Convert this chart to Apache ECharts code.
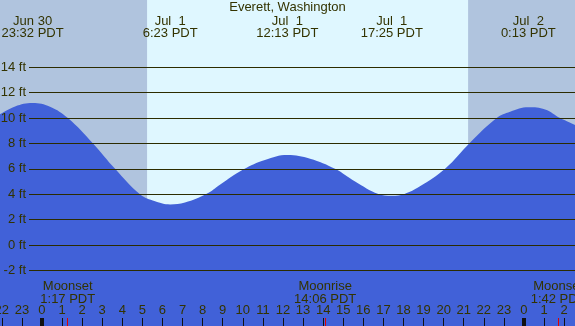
<!DOCTYPE html>
<html>
<head>
<meta charset="utf-8">
<script src="https://cdn.jsdelivr.net/npm/echarts@6/dist/echarts.min.js"></script>
<style>
  html, body { margin: 0; padding: 0; }
  #tide { width: 575px; height: 326px; }
</style>
</head>
<body>
<div id="tide"></div>
<script>
// hours are counted from midnight Jul 1 (PDT)
const stationName = "Everett, Washington";
const startHour = -2.09;
const endHour = 26.54;

const tideHours = [-2.09, -1.34, -0.47, 0.40, 1.29, 2.54, 3.64, 4.88, 5.63, 6.38, 7.12, 8.20, 8.86, 10.02, 11.10, 12.22, 13.35, 14.59, 15.59, 16.75, 17.42, 18.05, 18.80, 20.07, 21.31, 22.64, 23.31, 24.22, 25.05, 25.80, 26.54];
const tideFeet = [10.3, 10.92, 11.19, 10.9, 10.0, 8.0, 6.0, 4.0, 3.45, 3.2, 3.34, 4.03, 4.75, 5.95, 6.7, 7.09, 6.8, 6.0, 5.0, 4.02, 3.88, 4.02, 4.6, 6.0, 8.05, 10.0, 10.5, 10.85, 10.68, 10.0, 9.46];

const eventHours = [-0.467, 6.383, 12.217, 17.417, 24.217];
const eventDates = ["Jun 30", "Jul  1", "Jul  1", "Jul  1", "Jul  2"];
const eventTimes = ["23:32 PDT", "6:23 PDT", "12:13 PDT", "17:25 PDT", "0:13 PDT"];

const moonHours = [1.283, 14.1, 25.7];
const moonNames = ["Moonset", "Moonrise", "Moonset"];
const moonTimes = ["1:17 PDT", "14:06 PDT", "1:42 PDT"];

const sunHours = [5.233, 21.217]; // sunrise, sunset
const midnightHours = [0, 24];
const hourTicks = [-2, -1, 0, 1, 2, 3, 4, 5, 6, 7, 8, 9, 10, 11, 12, 13, 14, 15, 16, 17, 18, 19, 20, 21, 22, 23, 24, 25, 26];
const feetMin = -2, feetMax = 14, feetStep = 2;

const ink = "#333300";
const font = "'Liberation Sans', Arial, sans-serif";
const fs = 13;

function findIdx(list, v) {
  return list.findIndex(h => Math.abs(h - v) < 0.01);
}

// shared bits for the x axes drawn in the full-size grid
function hourAxis(extra) {
  return Object.assign({
    type: "value", gridIndex: 0, min: startHour, max: endHour, z: 10,
    position: "bottom",
    axisLine: { show: false, onZero: false },
    splitLine: { show: false }
  }, extra);
}

const chart = echarts.init(document.getElementById("tide"));
chart.setOption({
  animation: false,
  backgroundColor: "#dff7ff",
  textStyle: { fontFamily: font, color: ink },
  title: {
    text: stationName,
    left: "center",
    top: 0,
    padding: 1,
    textStyle: { fontSize: fs, fontWeight: "normal", color: ink, fontFamily: font }
  },
  grid: [
    { left: 0, right: 0, top: 0, bottom: 0, outerBoundsMode: "none" },
    { left: 29, right: 0, top: 67.3, bottom: 55.6, outerBoundsMode: "none" }
  ],
  xAxis: [
    hourAxis({
      axisTick: { inside: true, length: 8, customValues: hourTicks, lineStyle: { color: "#111", width: 1 } },
      axisLabel: {
        inside: true, margin: 9, customValues: hourTicks, color: ink, fontSize: fs, fontFamily: font,
        formatter: v => String(((Math.round(v) % 24) + 24) % 24)
      }
    }),
    hourAxis({
      z: 11,
      axisTick: { inside: true, length: 8, customValues: midnightHours, lineStyle: { color: "#111", width: 4 } },
      axisLabel: { show: false }
    }),
    hourAxis({
      z: 11,
      axisTick: { inside: true, length: 8, customValues: moonHours, lineStyle: { color: "#e00000", width: 1 } },
      axisLabel: {
        inside: true, margin: 20, customValues: moonHours, color: ink, fontSize: fs, fontFamily: font, lineHeight: 13,
        formatter: v => { const i = findIdx(moonHours, v); return moonNames[i] + "\n" + moonTimes[i]; }
      }
    }),
    hourAxis({
      z: 11,
      position: "top",
      axisTick: { show: false },
      axisLabel: {
        inside: true, margin: 15, customValues: eventHours, color: ink, fontSize: fs, fontFamily: font, lineHeight: 12,
        formatter: v => { const i = findIdx(eventHours, v); return eventDates[i] + "\n" + eventTimes[i]; }
      }
    }),
    { type: "value", gridIndex: 1, min: 0, max: 1, show: false }
  ],
  yAxis: [
    {
      type: "value", gridIndex: 0, show: false,
      min: feetMin - 55.6 / 12.69, max: feetMax + 67.3 / 12.69
    },
    {
      type: "value", gridIndex: 1, z: 10,
      min: feetMin, max: feetMax, interval: feetStep,
      axisLine: { show: false },
      axisTick: { show: false },
      splitLine: { show: true, lineStyle: { color: "#2c2c00", width: 1 } },
      axisLabel: { margin: 3, color: ink, fontSize: fs, fontFamily: font, formatter: "{value} ft" }
    }
  ],
  series: [
    {
      type: "line", xAxisIndex: 0, yAxisIndex: 0, z: 1, data: [],
      markArea: {
        silent: true,
        itemStyle: { color: "#b0c4de" },
        data: [
          [{ xAxis: startHour }, { xAxis: sunHours[0] }],
          [{ xAxis: sunHours[1] }, { xAxis: endHour }]
        ]
      }
    },
    {
      type: "line", xAxisIndex: 0, yAxisIndex: 0, z: 3,
      data: tideHours.map((h, i) => [h, tideFeet[i]]),
      smooth: 0.4,
      symbol: "none",
      lineStyle: { width: 0 },
      areaStyle: { origin: "start", color: "#4161d8", opacity: 1 }
    }
  ]
});
</script>
</body>
</html>
